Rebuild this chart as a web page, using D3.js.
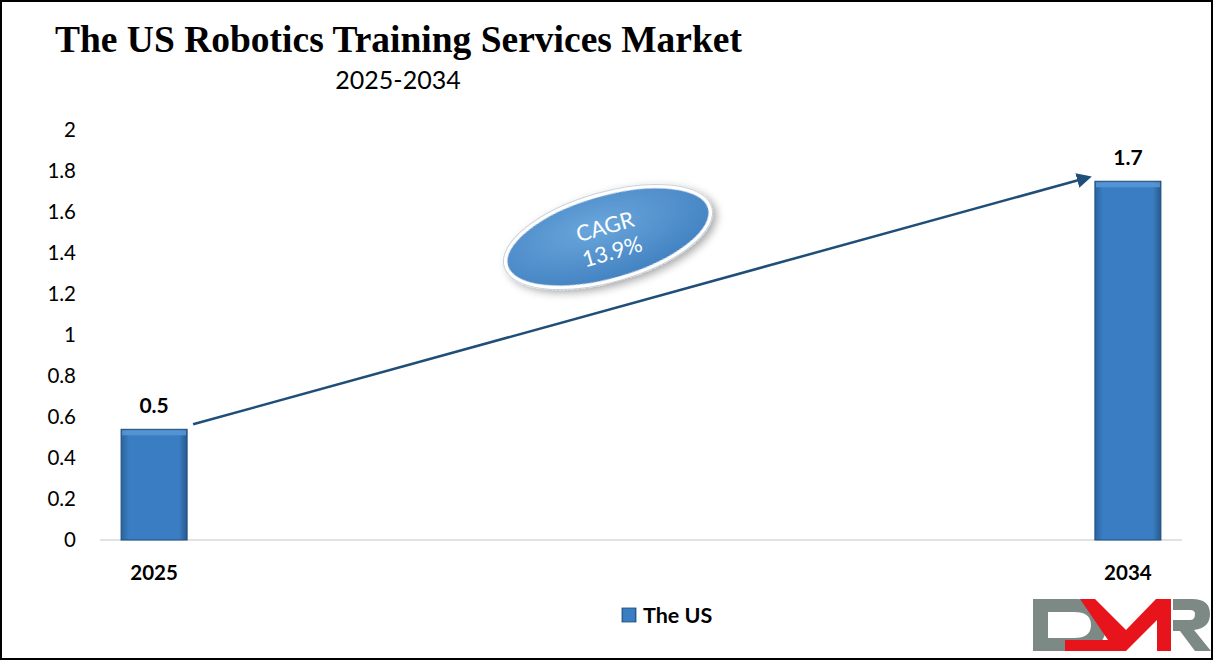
<!DOCTYPE html>
<html><head><meta charset="utf-8">
<script src="https://cdn.jsdelivr.net/npm/d3@7"></script>
<style>body{margin:0;background:#fff}svg{display:block}</style>
</head><body>
<script>
const years = ["2025","2026","2027","2028","2029","2030","2031","2032","2033","2034"];
const values = [0.54, null, null, null, null, null, null, null, null, 1.75];
const valueLabels = ["0.5", null, null, null, null, null, null, null, null, "1.7"];
const shownYears = ["2025","2034"];
const yTicks = [0,0.2,0.4,0.6,0.8,1,1.2,1.4,1.6,1.8,2];
const seriesName = "The US";
const cagrText = ["CAGR","13.9%"];

const W=1216,H=663;
const svg=d3.select("body").append("svg").attr("width",W).attr("height",H);
const defs=svg.append("defs");
const bg=defs.append("linearGradient").attr("id","barg").attr("x1",0).attr("x2",1);
bg.append("stop").attr("offset","0").attr("stop-color","#2a64a0");
bg.append("stop").attr("offset","0.12").attr("stop-color","#3a7dc2");
bg.append("stop").attr("offset","0.88").attr("stop-color","#3a7dc2");
bg.append("stop").attr("offset","1").attr("stop-color","#25598f");
const eg=defs.append("radialGradient").attr("id","ellg").attr("cx","45%").attr("cy","35%").attr("r","70%");
eg.append("stop").attr("offset","0").attr("stop-color","#6aa6dc");
eg.append("stop").attr("offset","1").attr("stop-color","#3f7fbf");
const f=defs.append("filter").attr("id","sh").attr("x","-30%").attr("y","-30%").attr("width","160%").attr("height","160%");
f.append("feDropShadow").attr("dx",3).attr("dy",4).attr("stdDeviation",4).attr("flood-color","#000").attr("flood-opacity",0.35);
defs.append("marker").attr("id","arr").attr("viewBox","0 0 10 10").attr("refX",8).attr("refY",5)
  .attr("markerWidth",6).attr("markerHeight",6).attr("orient","auto")
  .append("path").attr("d","M0,0L10,5L0,10z").attr("fill","#1f4e79");

// frame
svg.append("rect").attr("x",1).attr("y",1).attr("width",1211).attr("height",658).attr("fill","none").attr("stroke","#000").attr("stroke-width",2);

svg.append("text").attr("x",55).attr("y",52)
  .attr("font-family","Liberation Serif").attr("font-weight","bold").attr("font-size",38)
  .attr("textLength",687).attr("lengthAdjust","spacingAndGlyphs")
  .text("The US Robotics Training Services Market");
svg.append("text").attr("x",398).attr("y",89).attr("text-anchor","middle")
  .attr("font-family","Lato").attr("font-size",25).text("2025-2034");

const x=d3.scaleBand().domain(years).range([100,1182]).paddingInner(0.39).paddingOuter(0.195);
const y=d3.scaleLinear().domain([0,2]).range([540,130]);

const ya=svg.append("g").attr("transform","translate(100,0)")
  .call(d3.axisLeft(y).tickValues(yTicks).tickFormat(d=>String(d)).tickSize(0).tickPadding(24));
ya.select(".domain").remove();
ya.selectAll("text").attr("font-family","Lato").attr("font-size",20.5).attr("fill","#000");

svg.append("line").attr("x1",100).attr("x2",1182).attr("y1",y(0)).attr("y2",y(0)).attr("stroke","#d9d9d9").attr("stroke-width",1.5);

const xa=svg.append("g").attr("transform",`translate(0,${y(0)})`)
  .call(d3.axisBottom(x).tickFormat(d=>shownYears.includes(d)?d:"").tickSize(0).tickPadding(25));
xa.select(".domain").remove();
xa.selectAll("text").attr("font-family","Lato").attr("font-weight","bold").attr("font-size",20.5).attr("fill","#000");

const data=years.map((yr,i)=>({yr,v:values[i],lab:valueLabels[i]})).filter(d=>d.v!=null);
svg.selectAll(".bar").data(data).enter().append("rect")
  .attr("x",d=>x(d.yr)).attr("y",d=>y(d.v)).attr("width",x.bandwidth()).attr("height",d=>y(0)-y(d.v))
  .attr("fill","url(#barg)").attr("stroke","#1f4e79").attr("stroke-width",1);
svg.selectAll(".bartop").data(data).enter().append("rect")
  .attr("x",d=>x(d.yr)+1).attr("y",d=>y(d.v)+1).attr("width",x.bandwidth()-2).attr("height",5)
  .attr("fill","#5d9ad6").attr("opacity",0.8);
svg.selectAll(".vl").data(data).enter().append("text")
  .attr("x",d=>x(d.yr)+x.bandwidth()/2).attr("y",d=>y(d.v)-16).attr("text-anchor","middle")
  .attr("font-family","Lato").attr("font-weight","bold").attr("font-size",21).text(d=>d.lab);

// arrow
const a0=data[0], a1=data[data.length-1];
svg.append("line").attr("x1",x(a0.yr)+x.bandwidth()+6).attr("y1",y(a0.v)-5)
  .attr("x2",x(a1.yr)-6).attr("y2",y(a1.v)-4).attr("stroke","#1f4e79").attr("stroke-width",2.5)
  .attr("marker-end","url(#arr)");

// ellipse
const eg2=svg.append("g").attr("transform","translate(608,237) rotate(-16)");
eg2.append("ellipse").attr("rx",106).attr("ry",43).attr("fill","url(#ellg)").attr("stroke","#fff").attr("stroke-width",4).attr("filter","url(#sh)");
eg2.append("ellipse").attr("rx",108).attr("ry",45).attr("fill","none").attr("stroke","#c8d3de").attr("stroke-width",1);
eg2.selectAll("text").data(cagrText).enter().append("text").attr("x",0).attr("y",(d,i)=>-3+i*26)
  .attr("text-anchor","middle").attr("font-family","Lato").attr("font-size",22).attr("fill","#fff").text(d=>d);

// legend
svg.append("rect").attr("x",622).attr("y",608).attr("width",14).attr("height",14).attr("fill","url(#barg)").attr("stroke","#1f4e79").attr("stroke-width",0.8);
svg.append("text").attr("x",643).attr("y",623).attr("font-family","Lato").attr("font-weight","bold").attr("font-size",21.5).text(seriesName);

// logo
const lg=svg.append("g");
lg.append("path").attr("fill-rule","evenodd").attr("fill","#7c8985")
  .attr("d","M1033,599 H1078 Q1106,599 1106,625 Q1106,651 1078,651 H1033 Z M1048,612 H1074 Q1091,612 1091,625 Q1091,638 1074,638 H1048 Z");
lg.append("path").attr("fill","#7c8985")
  .attr("d","M1173,599 H1192 Q1210,599 1210,614 Q1210,628 1194,630 L1211,651 H1195 L1180,631 H1173 V620 H1190 Q1195,620 1195,614 Q1195,610 1190,610 H1173 Z");
lg.append("path").attr("fill","#e8141c")
  .attr("d","M1080,599 H1095 L1126,630 L1156,599 H1171 V651 H1157 V620 L1126,651 H1065 V640 H1108 Z");
</script>
</body></html>
